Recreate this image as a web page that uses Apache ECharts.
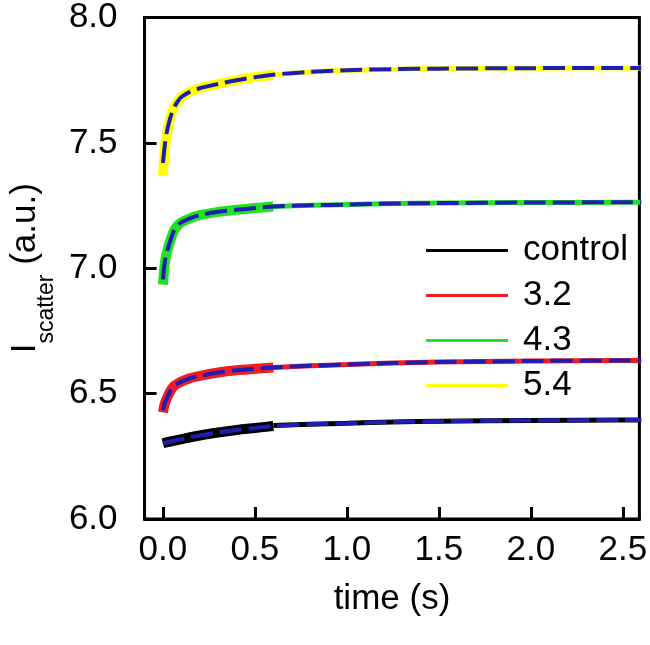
<!DOCTYPE html>
<html>
<head>
<meta charset="utf-8">
<script src="https://cdn.jsdelivr.net/npm/echarts@6/dist/echarts.min.js"></script>
<style>html,body{margin:0;padding:0;background:#fff;}#c{width:650px;height:645px;}</style>
</head>
<body>
<div id="c"></div>
<script>
// ---- data ----
const seriesNames = ['control', '3.2', '4.3', '5.4'];
const xTicks = [0, 0.5, 1.0, 1.5, 2.0, 2.5];
const yTicks = [6.0, 6.5, 7.0, 7.5, 8.0];

const timeFast = [0, 0.01, 0.02, 0.04, 0.06, 0.08, 0.1, 0.15, 0.2, 0.3, 0.4, 0.5, 0.6];
const timeSlow = [0.6, 0.8, 1.0, 1.25, 1.5, 2.0, 2.5, 2.6];
const timeFit  = [0, 0.01, 0.02, 0.04, 0.06, 0.08, 0.1, 0.15, 0.2, 0.3, 0.4, 0.5, 0.6, 0.8, 1.0, 1.25, 1.5, 2.0, 2.5, 2.6];

const controlFast = [6.302, 6.304, 6.306, 6.309, 6.312, 6.315, 6.318, 6.326, 6.333, 6.345, 6.355, 6.363, 6.371];
const controlSlow = [6.373, 6.378, 6.382, 6.387, 6.390, 6.393, 6.395, 6.395];
const controlFit  = [6.300, 6.303, 6.306, 6.309, 6.312, 6.315, 6.318, 6.326, 6.333, 6.345, 6.355, 6.363, 6.371, 6.378, 6.382, 6.387, 6.390, 6.393, 6.395, 6.395];

const c32Fast = [6.425, 6.460, 6.480, 6.510, 6.530, 6.540, 6.548, 6.562, 6.571, 6.584, 6.593, 6.599, 6.604];
const c32Slow = [6.604, 6.611, 6.616, 6.622, 6.626, 6.630, 6.632, 6.632];
const c32Fit  = [6.435, 6.462, 6.480, 6.510, 6.530, 6.540, 6.548, 6.562, 6.571, 6.584, 6.593, 6.599, 6.604, 6.611, 6.616, 6.622, 6.626, 6.630, 6.632, 6.632];

const c43Fast = [6.935, 7.020, 7.060, 7.110, 7.150, 7.170, 7.183, 7.200, 7.212, 7.225, 7.233, 7.240, 7.246];
const c43Slow = [7.246, 7.251, 7.254, 7.258, 7.260, 7.262, 7.263, 7.263];
const c43Fit  = [6.955, 7.025, 7.060, 7.110, 7.150, 7.170, 7.183, 7.200, 7.212, 7.225, 7.233, 7.240, 7.246, 7.251, 7.254, 7.258, 7.260, 7.262, 7.263, 7.263];

const c54Fast = [7.370, 7.470, 7.530, 7.600, 7.640, 7.665, 7.683, 7.705, 7.718, 7.735, 7.750, 7.762, 7.772];
const c54Slow = [7.772, 7.783, 7.790, 7.794, 7.796, 7.798, 7.799, 7.799];
const c54Fit  = [7.420, 7.490, 7.540, 7.600, 7.640, 7.665, 7.683, 7.705, 7.718, 7.735, 7.750, 7.762, 7.772, 7.783, 7.790, 7.794, 7.796, 7.798, 7.799, 7.799];

// ---- build ----
const colors = ['#000000', '#ee1c24', '#22e022', '#ffff00'];
const fastData = [controlFast, c32Fast, c43Fast, c54Fast];
const slowData = [controlSlow, c32Slow, c43Slow, c54Slow];
const fitData  = [controlFit, c32Fit, c43Fit, c54Fit];
const zip = (t, v) => t.map((x, i) => [x, v[i]]);
const FONT = 'Liberation Sans, Arial, sans-serif';
const FS = 35;

const series = [];
seriesNames.forEach((n, i) => {
  series.push({ name: n, type: 'line', data: zip(timeFast, fastData[i]), showSymbol: false, smooth: 0.3,
    lineStyle: { color: colors[i], width: 10, cap: 'butt', join: 'round' }, itemStyle: { color: colors[i] }, z: 2 });
  series.push({ name: n, type: 'line', data: zip(timeSlow, slowData[i]), showSymbol: false, smooth: 0.3,
    lineStyle: { color: colors[i], width: 5, cap: 'butt' }, itemStyle: { color: colors[i] }, z: 2 });
});
seriesNames.forEach((n, i) => {
  series.push({ name: 'fit ' + n, type: 'line', data: zip(timeFit, fitData[i]), showSymbol: false, smooth: 0.3,
    lineStyle: { color: '#1e1eb4', width: 4, type: [22, 7] }, z: 3 });
});

const chart = echarts.init(document.getElementById('c'), null, { renderer: 'canvas' });
chart.setOption({
  animation: false,
  backgroundColor: '#fff',
  grid: { left: 140, right: 5, top: 15, bottom: 126, show: true, borderColor: '#000', borderWidth: 3 },
  legend: {
    data: seriesNames.map((n, i) => ({ name: n, icon: 'rect', itemStyle: { color: colors[i] } })),
    orient: 'vertical', left: 421, top: 227,
    itemWidth: 82, itemHeight: 3, itemGap: 8,
    textStyle: { fontFamily: FONT, fontSize: FS, color: '#000', lineHeight: 37, padding: [0, 0, 0, 10] },
    selectedMode: false
  },
  xAxis: {
    type: 'value', min: -0.1, max: 2.59,
    name: 'time (s)', nameLocation: 'middle', nameGap: 63,
    nameTextStyle: { fontFamily: FONT, fontSize: FS, color: '#000' },
    axisLine: { show: true, onZero: false, lineStyle: { color: '#000', width: 3 } },
    axisTick: { show: true, inside: true, length: 12, lineStyle: { color: '#000', width: 3 }, customValues: xTicks },
    axisLabel: { fontFamily: FONT, fontSize: FS, color: '#000', margin: 14, customValues: xTicks, formatter: v => v.toFixed(1) },
    splitLine: { show: false }
  },
  yAxis: {
    type: 'value', min: 6, max: 8, interval: 0.5,
    name: '{i|I}{s|scatter}{n| (a.u.)}', nameLocation: 'middle', nameGap: 95, nameRotate: 90,
    nameTextStyle: {
      fontFamily: FONT, color: '#000',
      rich: {
        i: { fontFamily: FONT, fontSize: FS, lineHeight: 40, verticalAlign: 'top', color: '#000' },
        s: { fontFamily: FONT, fontSize: 23, lineHeight: 23, verticalAlign: 'bottom', color: '#000', padding: [0, 0, -10, 0] },
        n: { fontFamily: FONT, fontSize: FS, lineHeight: 40, verticalAlign: 'top', color: '#000' }
      }
    },
    axisLine: { show: true, onZero: false, lineStyle: { color: '#000', width: 3 } },
    axisTick: { show: true, inside: true, length: 12, lineStyle: { color: '#000', width: 3 } },
    axisLabel: { fontFamily: FONT, fontSize: FS, color: '#000', margin: 27, formatter: v => v.toFixed(1) },
    splitLine: { show: false }
  },
  series: series
});
</script>
</body>
</html>
